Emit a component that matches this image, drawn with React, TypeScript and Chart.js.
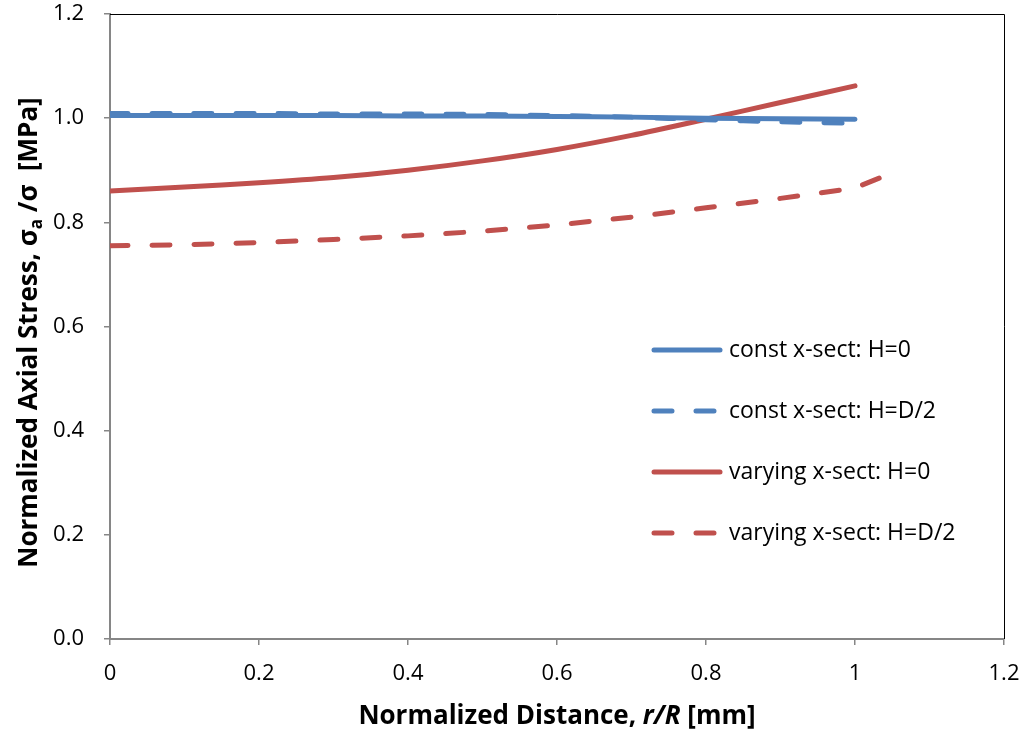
import React, { useEffect, useRef } from "react";
import { Chart, registerables } from "chart.js";

Chart.register(...registerables);

const xs = [0, 0.1, 0.2, 0.3, 0.4, 0.5, 0.6, 0.7, 0.8, 0.9, 1.0];
const xsVaryD2 = [0, 0.1, 0.2, 0.3, 0.4, 0.5, 0.6, 0.7, 0.8, 0.9, 1.0, 1.045];

const constH0 = [1.005, 1.005, 1.005, 1.005, 1.004, 1.004, 1.003, 1.002, 1.0, 0.999, 0.998];
const constHD2 = [1.009, 1.009, 1.009, 1.008, 1.008, 1.007, 1.005, 1.002, 0.997, 0.993, 0.99];
const varyH0 = [0.86, 0.868, 0.876, 0.886, 0.9, 0.918, 0.94, 0.967, 0.998, 1.03, 1.062];
const varyHD2 = [0.755, 0.757, 0.761, 0.767, 0.774, 0.783, 0.795, 0.81, 0.828, 0.846, 0.866, 0.892];

const seriesLabels = [
  "const x-sect: H=0",
  "const x-sect: H=D/2",
  "varying x-sect: H=0",
  "varying x-sect: H=D/2",
];

const xTicks = [0, 0.2, 0.4, 0.6, 0.8, 1, 1.2];

const BLUE = "#4F81BD";
const RED = "#C0504D";
const AXIS = "#868686";
const FONT = "'Open Sans', 'Noto Sans', sans-serif";

const toPts = (x: number[], y: number[]) => x.map((v, i) => ({ x: v, y: y[i] }));

const decorPlugin = {
  id: "decor",
  afterDraw(chart: any) {
    const { ctx, chartArea: ca } = chart;
    ctx.save();
    // top & right frame
    ctx.strokeStyle = "#000";
    ctx.lineWidth = 1;
    ctx.beginPath();
    ctx.moveTo(ca.left, ca.top + 0.5);
    ctx.lineTo(ca.right + 0.5, ca.top + 0.5);
    ctx.lineTo(ca.right + 0.5, ca.bottom);
    ctx.stroke();

    // legend
    const ys = [350, 411, 472, 533];
    chart.data.datasets.forEach((ds: any, i: number) => {
      const y = ys[i];
      ctx.strokeStyle = ds.borderColor;
      ctx.lineWidth = 5;
      ctx.lineCap = "round";
      ctx.setLineDash(ds.borderDash || []);
      ctx.beginPath();
      ctx.moveTo(654, y);
      ctx.lineTo(720, y);
      ctx.stroke();
      ctx.setLineDash([]);
      ctx.fillStyle = "#000";
      ctx.font = `23px ${FONT}`;
      ctx.textBaseline = "middle";
      ctx.textAlign = "left";
      ctx.fillText(ds.label, 729, y);
    });

    // x title
    const runs = [
      { t: "Normalized Distance, ", f: `bold 26px ${FONT}` },
      { t: "r/R", f: `italic bold 26px ${FONT}` },
      { t: " [mm]", f: `bold 26px ${FONT}` },
    ];
    let total = 0;
    runs.forEach((r) => {
      ctx.font = r.f;
      total += ctx.measureText(r.t).width;
    });
    let x = (ca.left + ca.right) / 2 - total / 2;
    ctx.textBaseline = "middle";
    ctx.textAlign = "left";
    ctx.fillStyle = "#000";
    runs.forEach((r) => {
      ctx.font = r.f;
      ctx.fillText(r.t, x, 717);
      x += ctx.measureText(r.t).width;
    });

    // y title (rotated) with subscript
    const yr = [
      { t: "Normalized Axial Stress, σ", f: `bold 26px ${FONT}`, dy: 0 },
      { t: "a", f: `bold 17px ${FONT}`, dy: 7 },
      { t: " /σ  [MPa]", f: `bold 26px ${FONT}`, dy: 0 },
    ];
    let tw = 0;
    yr.forEach((r) => {
      ctx.font = r.f;
      tw += ctx.measureText(r.t).width;
    });
    ctx.translate(30, (ca.top + ca.bottom) / 2 + 6);
    ctx.rotate(-Math.PI / 2);
    let px = -tw / 2;
    yr.forEach((r) => {
      ctx.font = r.f;
      ctx.fillText(r.t, px, r.dy);
      px += ctx.measureText(r.t).width;
    });
    ctx.restore();
  },
};

export default function App() {
  const ref = useRef<HTMLCanvasElement>(null);
  useEffect(() => {
    document.body.style.margin = "0";
    const canvas = ref.current!;
    const chart = new Chart(canvas, {
      type: "line",
      data: {
        datasets: [
          {
            label: seriesLabels[0],
            data: toPts(xs, constH0),
            borderColor: BLUE,
            borderWidth: 5,
            pointRadius: 0,
            tension: 0.3,
            borderCapStyle: "round",
          },
          {
            label: seriesLabels[1],
            data: toPts(xs, constHD2),
            borderColor: BLUE,
            borderWidth: 5,
            borderDash: [18, 24],
            borderCapStyle: "round",
            pointRadius: 0,
            tension: 0.3,
          },
          {
            label: seriesLabels[2],
            data: toPts(xs, varyH0),
            borderColor: RED,
            borderWidth: 5,
            pointRadius: 0,
            tension: 0.3,
            borderCapStyle: "round",
          },
          {
            label: seriesLabels[3],
            data: toPts(xsVaryD2, varyHD2),
            borderColor: RED,
            borderWidth: 5,
            borderDash: [18, 24],
            borderCapStyle: "round",
            pointRadius: 0,
            tension: 0,
          },
        ],
      },
      options: {
        responsive: false,
        animation: false,
        layout: { padding: { top: 14, right: 25, left: 0, bottom: 0 } },
        plugins: { legend: { display: false }, tooltip: { enabled: false } },
        scales: {
          x: {
            type: "linear",
            min: 0,
            max: 1.2,
            afterFit: (s: any) => {
              s.height = 101;
              s.paddingLeft = 0;
              s.paddingRight = 0;
            },
            afterBuildTicks: (s: any) => {
              s.ticks = xTicks.map((v) => ({ value: v }));
            },
            ticks: {
              color: "#000",
              font: { family: FONT, size: 22 },
              padding: 16,
              maxRotation: 0,
              callback: (v: any) => String(Math.round(Number(v) * 10) / 10),
            },
            grid: { drawOnChartArea: false, drawTicks: true, tickLength: 6, color: AXIS, lineWidth: 1.5 },
            border: { color: AXIS, width: 2 },
          },
          y: {
            type: "linear",
            min: 0,
            max: 1.2,
            afterFit: (s: any) => {
              s.width = 110;
              s.paddingTop = 0;
              s.paddingBottom = 0;
            },
            ticks: {
              stepSize: 0.2,
              color: "#000",
              font: { family: FONT, size: 22 },
              padding: 20,
              callback: (v: any) => Number(v).toFixed(1),
            },
            grid: { drawOnChartArea: false, drawTicks: true, tickLength: 6, color: AXIS, lineWidth: 1.5 },
            border: { color: AXIS, width: 2 },
          },
        },
      },
      plugins: [decorPlugin],
    } as any);
    return () => chart.destroy();
  }, []);
  return <canvas ref={ref} width={1029} height={740} style={{ display: "block" }} />;
}
